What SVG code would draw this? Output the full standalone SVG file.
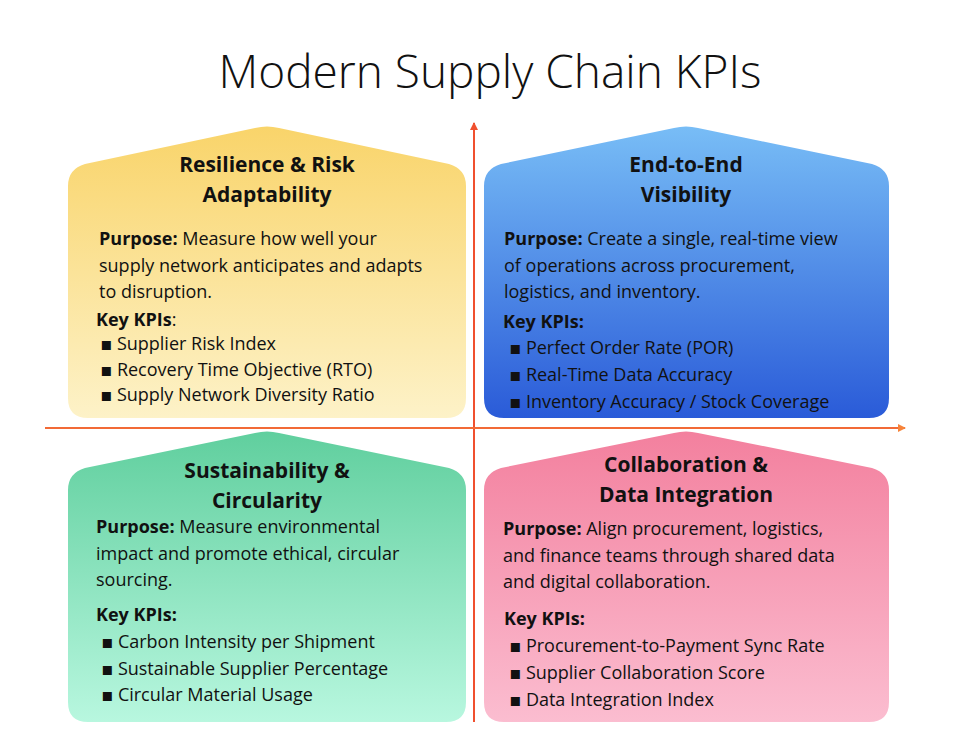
<svg xmlns="http://www.w3.org/2000/svg" width="980" height="735" viewBox="0 0 980 735">
<defs>
<linearGradient id="gy" x1="0" y1="0" x2="0" y2="1"><stop offset="0" stop-color="#f9d46a"/><stop offset="1" stop-color="#fdf2c8"/></linearGradient>
<linearGradient id="gb" x1="0" y1="0" x2="0" y2="1"><stop offset="0" stop-color="#78bdf6"/><stop offset="1" stop-color="#2a5bd8"/></linearGradient>
<linearGradient id="gg" x1="0" y1="0" x2="0" y2="1"><stop offset="0" stop-color="#60cf9e"/><stop offset="1" stop-color="#b8f7df"/></linearGradient>
<linearGradient id="gp" x1="0" y1="0" x2="0" y2="1"><stop offset="0" stop-color="#f3809e"/><stop offset="1" stop-color="#fbbdd0"/></linearGradient>
<marker id="ar" markerWidth="8" markerHeight="8" refX="7" refY="4" orient="auto" markerUnits="userSpaceOnUse"><path d="M0,0 L8,4 L0,8 Z" fill="#f0502f"/></marker>
<marker id="ao" markerWidth="8" markerHeight="8" refX="7" refY="4" orient="auto" markerUnits="userSpaceOnUse"><path d="M0,0 L8,4 L0,8 Z" fill="#f7843a"/></marker>
</defs>
<style>
text{font-family:"Open Sans","DejaVu Sans",sans-serif;fill:#111}
.t{font-size:46px;font-weight:300;text-anchor:middle}
.h{font-size:21px;font-weight:700;text-anchor:middle}
.b{font-size:18px}
.k{font-weight:700}
</style>
<rect width="980" height="735" fill="#fff"/>
<text class="t" x="490" y="88">Modern Supply Chain KPIs</text>
<g id="connectors">
<line x1="474" y1="722" x2="474" y2="123" stroke="#f0502f" stroke-width="2" marker-end="url(#ar)"/>
<line x1="45" y1="428" x2="905" y2="428" stroke="#f26a36" stroke-width="2" marker-end="url(#ao)"/>
</g>
<g id="resilience">
<path d="M68,398 L68,186 Q68,169 85,164 L255,128 Q267,125 279,128 L449,164 Q466,169 466,186 L466,398 Q466,418 446,418 L88,418 Q68,418 68,398 Z" fill="url(#gy)"/>
<text class="h" x="267" y="172">Resilience &amp; Risk</text>
<text class="h" x="267" y="202">Adaptability</text>
<text class="b" x="99" y="245"><tspan class="k">Purpose:</tspan> Measure how well your</text>
<text class="b" x="99" y="272">supply network anticipates and adapts</text>
<text class="b" x="99" y="298">to disruption.</text>
<text class="b" x="96" y="326"><tspan class="k">Key KPIs</tspan>:</text>
<text class="b" x="100" y="350">▪  Supplier Risk Index</text>
<text class="b" x="100" y="376">▪  Recovery Time Objective (RTO)</text>
<text class="b" x="100" y="401">▪  Supply Network Diversity Ratio</text>
</g>
<g id="visibility">
<path d="M484,398 L484,186 Q484,169 501,164 L674,128 Q686,125 698,128 L872,164 Q889,169 889,186 L889,398 Q889,418 869,418 L504,418 Q484,418 484,398 Z" fill="url(#gb)"/>
<text class="h" x="686" y="172">End-to-End</text>
<text class="h" x="686" y="202">Visibility</text>
<text class="b" x="504" y="245"><tspan class="k">Purpose:</tspan> Create a single, real-time view</text>
<text class="b" x="504" y="272">of operations across procurement,</text>
<text class="b" x="504" y="298">logistics, and inventory.</text>
<text class="b k" x="503" y="328">Key KPIs:</text>
<text class="b" x="509" y="354">▪  Perfect Order Rate (POR)</text>
<text class="b" x="509" y="381">▪  Real-Time Data Accuracy</text>
<text class="b" x="509" y="408">▪  Inventory Accuracy / Stock Coverage</text>
</g>
<g id="sustainability">
<path d="M68,702 L68,490 Q68,473 85,468 L255,433 Q267,430 279,433 L449,468 Q466,473 466,490 L466,702 Q466,722 446,722 L88,722 Q68,722 68,702 Z" fill="url(#gg)"/>
<text class="h" x="267" y="478">Sustainability &amp;</text>
<text class="h" x="267" y="508">Circularity</text>
<text class="b" x="96" y="533"><tspan class="k">Purpose:</tspan> Measure environmental</text>
<text class="b" x="96" y="560">impact and promote ethical, circular</text>
<text class="b" x="96" y="586">sourcing.</text>
<text class="b k" x="96" y="621">Key KPIs:</text>
<text class="b" x="101" y="648">▪  Carbon Intensity per Shipment</text>
<text class="b" x="101" y="675">▪  Sustainable Supplier Percentage</text>
<text class="b" x="101" y="701">▪  Circular Material Usage</text>
</g>
<g id="collaboration">
<path d="M484,702 L484,490 Q484,473 501,468 L674,433 Q686,430 698,433 L872,468 Q889,473 889,490 L889,702 Q889,722 869,722 L504,722 Q484,722 484,702 Z" fill="url(#gp)"/>
<text class="h" x="686" y="472">Collaboration &amp;</text>
<text class="h" x="686" y="502">Data Integration</text>
<text class="b" x="503" y="535"><tspan class="k">Purpose:</tspan> Align procurement, logistics,</text>
<text class="b" x="503" y="562">and finance teams through shared data</text>
<text class="b" x="503" y="588">and digital collaboration.</text>
<text class="b k" x="504" y="625">Key KPIs:</text>
<text class="b" x="509" y="652">▪  Procurement-to-Payment Sync Rate</text>
<text class="b" x="509" y="679">▪  Supplier Collaboration Score</text>
<text class="b" x="509" y="706">▪  Data Integration Index</text>
</g>
</svg>
